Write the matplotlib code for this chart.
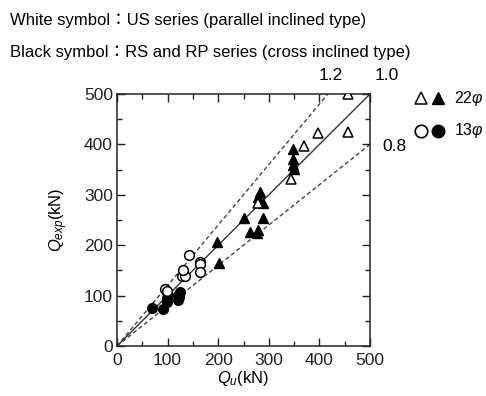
import matplotlib
matplotlib.use("Agg")
import matplotlib.pyplot as plt
from matplotlib.ticker import MultipleLocator

plt.rcParams['font.family'] = ['Liberation Sans', 'DejaVu Sans']
plt.rcParams['mathtext.fontset'] = 'custom'
plt.rcParams['mathtext.rm'] = 'Liberation Sans'
plt.rcParams['mathtext.it'] = 'Liberation Sans:italic'

# Data (kN)
us22_x = [457, 398, 457, 370, 343, 279]
us22_y = [500, 422, 424, 397, 331, 283]
rs22_x = [348, 348, 348, 350, 283, 279, 289, 250, 289, 262, 279, 276, 197, 202]
rs22_y = [391, 372, 360, 352, 306, 296, 284, 253, 253, 226, 230, 224, 206, 165]
us13_x = [95, 98, 128, 134, 131, 143, 164, 164, 164]
us13_y = [114, 109, 138, 138, 151, 181, 167, 162, 146]
rs13_x = [69, 90, 98, 98, 100, 98, 120, 122, 122, 124]
rs13_y = [75, 73, 88, 95, 102, 108, 91, 97, 103, 108]

ratios = [1.2, 1.0, 0.8]
ratio_labels = ['1.2', '1.0', '0.8']

fig = plt.figure(figsize=(4.86, 3.96), dpi=100)
ax = fig.add_axes([117/486, 1-346/396, 253/486, 252/396])

lim = 500
for r in ratios:
    xe = min(lim, lim / r)
    if r == 1.0:
        ax.plot([0, xe], [0, r * xe], color='#333333', lw=1.0, zorder=1)
    else:
        ax.plot([0, xe], [0, r * xe], color='#444444', lw=1.0,
                linestyle=(0, (3, 2)), zorder=1)

ms = 7
ax.plot(rs13_x, rs13_y, 'o', ms=ms, mfc='black', mec='black', zorder=3)
ax.plot(us13_x, us13_y, 'o', ms=ms, mfc='white', mec='black', mew=1.1, zorder=3)
ax.plot(rs22_x, rs22_y, '^', ms=ms + 0.5, mfc='black', mec='black', zorder=3)
ax.plot(us22_x, us22_y, '^', ms=ms + 0.5, mfc='white', mec='black', mew=1.1, zorder=4)

ax.set_xlim(0, lim)
ax.set_ylim(0, lim)
ax.xaxis.set_major_locator(MultipleLocator(100))
ax.yaxis.set_major_locator(MultipleLocator(100))
ax.xaxis.set_minor_locator(MultipleLocator(50))
ax.yaxis.set_minor_locator(MultipleLocator(50))
ax.tick_params(which='both', direction='in', top=True, right=True,
               labelsize=12.5, width=1.0, colors='#222222')
ax.tick_params(axis='x', pad=5)
ax.tick_params(axis='y', pad=3)
ax.tick_params(which='major', length=6)
ax.tick_params(which='minor', length=3.5)
for s in ax.spines.values():
    s.set_linewidth(1.1)
    s.set_color('#222222')

ax.set_xlabel(r'$Q_{u}$(kN)', fontsize=12, labelpad=1)
ax.set_ylabel(r'$Q_{exp}$(kN)', fontsize=12, labelpad=10)

# ratio labels
fig.text(331/486, 1-76/396, ratio_labels[0], fontsize=12.5, ha='center', va='center')
fig.text(387/486, 1-76/396, ratio_labels[1], fontsize=12.5, ha='center', va='center')
fig.text(394/486, 1-146/396, ratio_labels[2], fontsize=12.5, ha='center', va='center')

# legend
lax = fig.add_axes([0, 0, 1, 1], facecolor='none')
lax.set_xlim(0, 486)
lax.set_ylim(396, 0)
lax.axis('off')
lax.plot([421], [98], '^', ms=ms + 1.5, mfc='white', mec='black', mew=1.1)
lax.plot([438], [98], '^', ms=ms + 1.5, mfc='black', mec='black')
lax.plot([421], [131], 'o', ms=ms + 2, mfc='white', mec='black', mew=1.2)
lax.plot([438], [131], 'o', ms=ms + 2, mfc='black', mec='black')
lax.text(454, 98, r'22$\it{\varphi}$', fontsize=11.5, va='center', ha='left')
lax.text(454, 131, r'13$\it{\varphi}$', fontsize=11.5, va='center', ha='left')

fig.text(10/486, 1-20/396, 'White symbol\uff1aUS series (parallel inclined type)',
         fontsize=12, ha='left', va='center',
         family=['Liberation Sans', 'Noto Sans CJK JP', 'DejaVu Sans'])
fig.text(10/486, 1-52/396, 'Black symbol\uff1aRS and RP series (cross inclined type)',
         fontsize=12, ha='left', va='center',
         family=['Liberation Sans', 'Noto Sans CJK JP', 'DejaVu Sans'])

fig.savefig('out.png', dpi=100)
